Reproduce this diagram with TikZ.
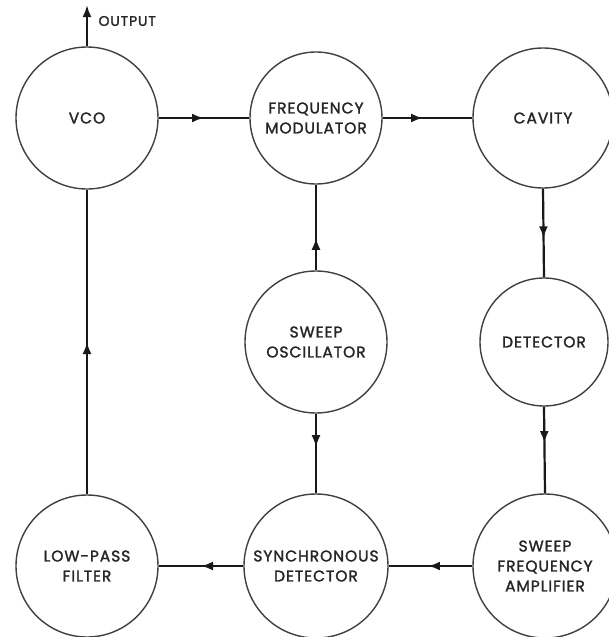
\documentclass[tikz,border=0pt]{standalone}
\usepackage{fontspec}
\setmainfont{Poppins}[FakeBold=1.6,LetterSpace=6]
\usetikzlibrary{arrows.meta,decorations.markings}
\tikzset{
  blk/.style={circle,draw=black!75,line width=1.4pt,inner sep=0pt,align=center,
    font=\fontsize{15.5}{20}\selectfont,text=black!85},
  conn/.style={line width=2.2pt,draw=black!90},
  tip/.tip={Latex[length=12pt,width=9pt]},
  midarrow/.style={postaction={decorate},decoration={markings,
    mark=at position #1 with {\arrow{tip}}}},
}
\begin{document}
\begin{tikzpicture}[x=1pt,y=-1pt]
\useasboundingbox[fill=white] (0,0) rectangle (608,637);
\node[blk,minimum size=142pt] (vco) at (87,118) {VCO};
\node[blk,minimum size=132pt] (fm) at (316,118) {FREQUENCY\\MODULATOR};
\node[blk,minimum size=140pt] (cav) at (543,118) {CAVITY};
\node[blk,minimum size=142pt] (so) at (316,342) {SWEEP\\OSCILLATOR};
\node[blk,minimum size=128pt] (det) at (544,342) {DETECTOR};
\node[blk,minimum size=142pt] (lpf) at (87,566) {LOW-PASS\\FILTER};
\node[blk,minimum size=144pt] (sd) at (316,566) {SYNCHRONOUS\\DETECTOR};
\node[blk,minimum size=144pt] (sfa) at (545,566) {SWEEP\\FREQUENCY\\AMPLIFIER};
\coordinate (out) at (87,5);
\node[anchor=west,font=\fontsize{14}{15}\selectfont,text=black!85] (outl) at (95,21) {OUTPUT};
\draw[conn,-tip] (vco.north) -- (out);
\draw[conn,midarrow=0.5] (vco.east) -- (fm.west);
\draw[conn,midarrow=0.45] (fm.east) -- (cav.west);
\draw[conn,midarrow=0.56] (cav.south) -- (det.north);
\draw[conn,midarrow=0.42] (det.south) -- (sfa.north);
\draw[conn,midarrow=0.53] (sfa.west) -- (sd.east);
\draw[conn,midarrow=0.42] (so.south) -- (sd.north);
\draw[conn,midarrow=0.38] (so.north) -- (fm.south);
\draw[conn,midarrow=0.5] (sd.west) -- (lpf.east);
\draw[conn,midarrow=0.5] (lpf.north) -- (vco.south);
\end{tikzpicture}
\end{document}
